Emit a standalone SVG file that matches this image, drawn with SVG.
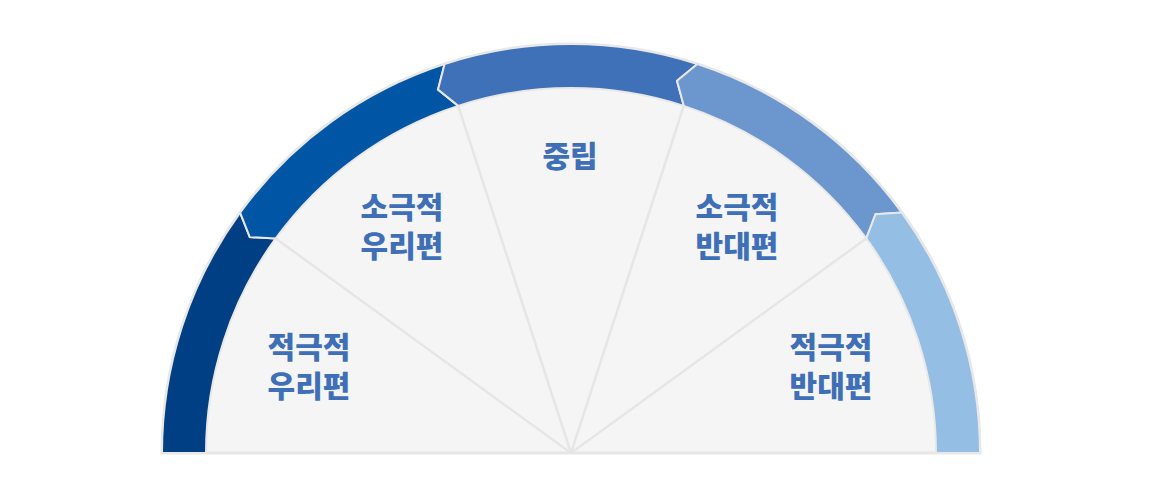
<svg xmlns="http://www.w3.org/2000/svg" width="1164" height="486" viewBox="0 0 1164 486">
  <style>
    .seg { stroke: #E8E8E8; stroke-width: 2; stroke-linejoin: miter; }
    .lbl { font-family: "Noto Sans CJK KR", "Noto Sans", sans-serif; font-weight: 900; font-size: 30px; fill: #3F6FB6; text-anchor: middle; }
    .spoke { stroke: #E6E6E6; stroke-width: 2.5; fill: none; }
  </style>
  <rect width="1164" height="486" fill="#FFFFFF"/>
  <g id="base">
    <path d="M162,453 A409,409 0 0 1 980,453 Z" fill="#F5F5F5" stroke="#E6E6E6" stroke-width="3"/>
  </g>
  <g id="connectors">
    <line class="spoke" x1="571" y1="453" x2="275.71" y2="238.46"/>
    <line class="spoke" x1="571" y1="453" x2="458.21" y2="105.86"/>
    <line class="spoke" x1="571" y1="453" x2="683.79" y2="105.86"/>
    <line class="spoke" x1="571" y1="453" x2="866.29" y2="238.46"/>
  </g>
  <g id="node-active-ours">
    <path class="seg" fill="#003F83" d="M162,453 A409,409 0 0 1 240.11,212.60 L249.79,237.15 L275.71,238.46 A365,365 0 0 0 206,453 Z"/>
    <text class="lbl" x="309" y="358"><tspan x="309" y="358">적극적</tspan><tspan x="309" y="397">우리편</tspan></text>
  </g>
  <g id="node-passive-ours">
    <path class="seg" fill="#0055A5" d="M240.11,212.60 A409,409 0 0 1 444.61,64.02 L438.00,89.57 L458.21,105.86 A365,365 0 0 0 275.71,238.46 L249.79,237.15 Z"/>
    <text class="lbl" x="402" y="218"><tspan x="402" y="218">소극적</tspan><tspan x="402" y="257">우리편</tspan></text>
  </g>
  <g id="node-neutral">
    <path class="seg" fill="#3E71B8" d="M444.61,64.02 A409,409 0 0 1 697.39,64.02 L677.01,80.80 L683.79,105.86 A365,365 0 0 0 458.21,105.86 L438.00,89.57 Z"/>
    <text class="lbl" x="570" y="167">중립</text>
  </g>
  <g id="node-passive-against">
    <path class="seg" fill="#6B96CE" d="M697.39,64.02 A409,409 0 0 1 901.89,212.60 L875.53,214.21 L866.29,238.46 A365,365 0 0 0 683.79,105.86 L677.01,80.80 Z"/>
    <text class="lbl" x="737" y="218"><tspan x="737" y="218">소극적</tspan><tspan x="737" y="257">반대편</tspan></text>
  </g>
  <g id="node-active-against">
    <path class="seg" fill="#95BEE5" d="M901.89,212.60 A409,409 0 0 1 980,453 L936,453 A365,365 0 0 0 866.29,238.46 L875.53,214.21 Z"/>
    <text class="lbl" x="831" y="358"><tspan x="831" y="358">적극적</tspan><tspan x="831" y="397">반대편</tspan></text>
  </g>
</svg>
